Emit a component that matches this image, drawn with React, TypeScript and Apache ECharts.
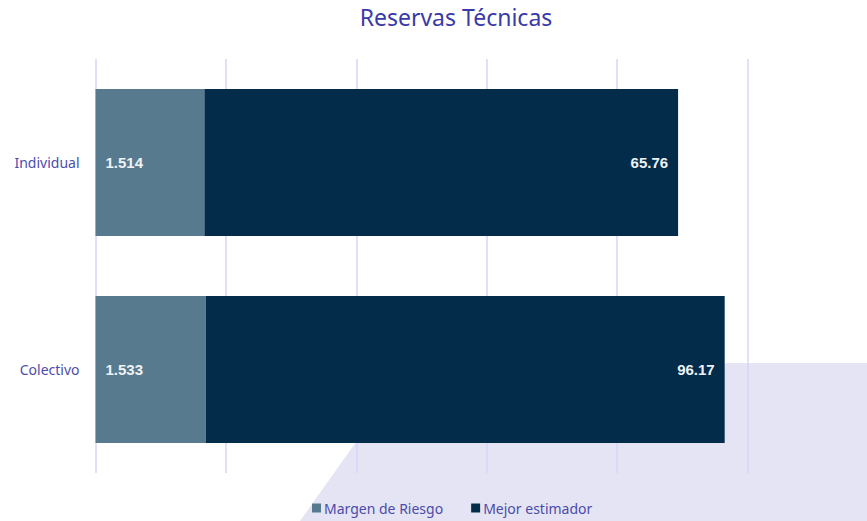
import React, { useEffect, useRef } from "react";
import * as echarts from "echarts";

const categories = ["Individual", "Colectivo"];
const margenRiesgo = [1.514, 1.533];
const mejorEstimador = [65.76, 96.17];
const seriesNames = ["Margen de Riesgo", "Mejor estimador"];

export default function App() {
  const ref = useRef<HTMLDivElement>(null);
  useEffect(() => {
    if (!ref.current) return;
    const chart = echarts.init(ref.current, undefined, { renderer: "svg" });
    const font = "'Noto Sans', sans-serif";
    const labelStyle = {
      show: true,
      color: "#eef2f5",
      fontSize: 15,
      fontWeight: "bold" as const,
      fontFamily: "'Liberation Sans', Arial, sans-serif",
      distance: 10,
      formatter: (p: any) => String(p.value),
    };
    chart.setOption({
      animation: false,
      backgroundColor: "#ffffff",
      title: {
        text: "Reservas Técnicas",
        left: 451,
        textAlign: "center",
        top: 0,
        textStyle: { color: "#3a3aa8", fontSize: 23, fontWeight: "normal", fontFamily: font },
      },
      graphic: [
        {
          type: "polygon",
          z: -100,
          silent: true,
          shape: { points: [[412, 363], [867, 363], [867, 521], [300, 521]] },
          style: { fill: "#e5e4f5" },
        },
      ],
      legend: {
        data: seriesNames,
        left: 312,
        top: 501,
        padding: 0,
        icon: "rect",
        itemWidth: 9,
        itemHeight: 9,
        itemGap: 28,
        textStyle: { color: "#4b4ba8", fontSize: 14, fontFamily: font, padding: [0, 0, 0, -2] },
      },
      grid: { left: 95.5, right: 119.5, top: 59, height: 414, containLabel: false },
      xAxis: [
        {
          type: "log",
          min: 0.6329,
          max: 117.3,
          startValue: 0.6329,
          axisLabel: { show: false },
          axisLine: { show: false },
          axisTick: { show: false },
          splitLine: { show: false },
          minorSplitLine: { show: false },
        },
        {
          type: "value",
          min: 0,
          max: 5,
          interval: 1,
          axisLabel: { show: false },
          axisLine: { show: false },
          axisTick: { show: false },
          splitLine: { show: true, lineStyle: { color: "#d6d6fa", width: 1.5 } },
        },
      ],
      yAxis: {
        type: "category",
        data: categories,
        inverse: true,
        axisLine: { show: false },
        axisTick: { show: false },
        axisLabel: { color: "#4d4da9", fontSize: 14, fontFamily: font, margin: 16 },
      },
      series: [
        {
          name: seriesNames[0],
          type: "bar",
          stack: "total",
          xAxisIndex: 0,
          data: margenRiesgo,
          barWidth: 147,
          itemStyle: { color: "#587a8e" },
          label: { ...labelStyle, position: "insideLeft" },
        },
        {
          name: seriesNames[1],
          type: "bar",
          stack: "total",
          xAxisIndex: 0,
          data: mejorEstimador,
          barWidth: 147,
          itemStyle: { color: "#022c4a" },
          label: { ...labelStyle, position: "insideRight" },
        },
      ],
    });
    return () => chart.dispose();
  }, []);
  return (
    <div
      ref={ref}
      style={{ position: "fixed", left: 0, top: 0, width: 867, height: 521 }}
    />
  );
}
